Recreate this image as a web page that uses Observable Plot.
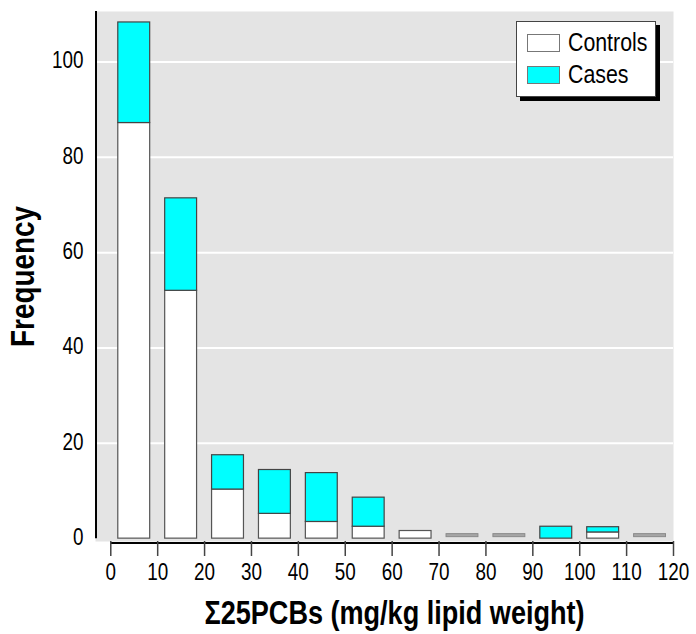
<!DOCTYPE html>
<html>
<head>
<meta charset="utf-8">
<script src="https://cdn.jsdelivr.net/npm/d3@7"></script>
<script src="https://cdn.jsdelivr.net/npm/@observablehq/plot@0.6"></script>
<style>
  body { margin: 0; background: white; }
  #wrap { position: relative; width: 696px; height: 634px; font-family: 'Liberation Sans', Arial, sans-serif; }
  #legend { position: absolute; left: 516px; top: 21px; width: 138px; height: 74px; background: white; border: 1px solid #444; box-shadow: 4px 4px 0 #000; }
  .sw { position: absolute; left: 10px; width: 31px; height: 16px; border: 1px solid #777; }
  .lt { position: absolute; left: 51px; font-size: 26px; line-height: 26px; color: #000; transform: scaleX(0.82); transform-origin: left center; white-space: nowrap; }
</style>
</head>
<body>
<div id="wrap">
  <div id="chart"></div>
  <div id="legend">
    <div class="sw" style="top:12px;background:#fff"></div>
    <div class="lt" style="top:7px">Controls</div>
    <div class="sw" style="top:44px;background:#00ffff"></div>
    <div class="lt" style="top:39px">Cases</div>
  </div>
</div>
<script>
// Bin lower edges (mg/kg lipid weight), bin width 10
const binStarts = [0, 10, 20, 30, 40, 50, 60, 70, 80, 90, 100, 110];
const binWidth = 10;
// Frequencies
const controls = [87.2, 52, 10.3, 5.2, 3.5, 2.5, 1.6, 0, 0, 0, 1.3, 0];
const cases    = [21.1, 19.4, 7.2, 9.2, 10.25, 6.1, 0, 0, 0, 2.5, 1.1, 0];
const xTicks = [0, 10, 20, 30, 40, 50, 60, 70, 80, 90, 100, 110, 120];
const yTicks = [0, 20, 40, 60, 80, 100];
const xLabel = "\u03A325PCBs (mg/kg lipid weight)";
const yLabel = "Frequency";

const rows = binStarts.map((b, i) => ({
  x1: b, x2: b + binWidth,
  c: controls[i], k: cases[i], total: controls[i] + cases[i]
}));
const nonEmptyControls = rows.filter(d => d.c > 0);
const nonEmptyCases = rows.filter(d => d.k > 0);
const emptyBins = rows.filter(d => d.total === 0);

const xMin = -3.26, xMax = 120, yMin = -0.6, yMax = 110.6;
const font = "'Liberation Sans', Arial, sans-serif";

const chart = Plot.plot({
  width: 696,
  height: 634,
  marginLeft: 95,
  marginRight: 23,
  marginTop: 11,
  marginBottom: 93,
  style: { fontFamily: font, fontSize: "23px", background: "white", color: "black" },
  x: { domain: [xMin, xMax], axis: null },
  y: { domain: [yMin, yMax], axis: null },
  marks: [
    Plot.frame({ fill: "#e4e4e4", stroke: null }),
    Plot.gridY(yTicks.filter(t => t > 0), { stroke: "white", strokeOpacity: 1, strokeWidth: 2 }),
    Plot.rect(nonEmptyControls, { x1: "x1", x2: "x2", y1: 0, y2: "c", fill: "white", stroke: "#555", strokeWidth: 1.2, insetLeft: 7.5, insetRight: 7.5 }),
    Plot.rect(nonEmptyCases, { x1: "x1", x2: "x2", y1: "c", y2: d => d.c + d.k, fill: "#00ffff", stroke: "#444", strokeWidth: 1.2, insetLeft: 7.5, insetRight: 7.5 }),
    Plot.rect(emptyBins, { x1: "x1", x2: "x2", y1: 0, y2: 0, fill: "#a6a6a6", stroke: "#8a8a8a", strokeWidth: 1, insetLeft: 7.5, insetRight: 7.5, insetTop: -4.5, insetBottom: 1.5 }),
    Plot.ruleX([xMin], { y1: 0, y2: yMax, stroke: "black", strokeWidth: 2, dx: 0.5 }),
    Plot.ruleY([yMin], { x1: 0, x2: xMax, stroke: "black", strokeWidth: 2, dy: 1.5 }),
    Plot.axisY(yTicks, { tickSize: 0, tickPadding: 12, fontSize: 23, label: null, dy: -1 }),
    Plot.axisX(xTicks, { tickSize: 15, tickPadding: 7, fontSize: 23, label: null, stroke: "#444", strokeWidth: 1.5 }),
    Plot.text([xLabel], { frameAnchor: "bottom", dx: 10, dy: 72, fontSize: 33, fontWeight: "bold", lineAnchor: "middle", textAnchor: "middle" }),
    Plot.text([yLabel], { frameAnchor: "left", dx: -72, rotate: -90, fontSize: 34, fontWeight: "bold", lineAnchor: "middle", textAnchor: "middle" })
  ]
});
document.getElementById("chart").appendChild(chart);
// Condense all text horizontally (the original uses a condensed Helvetica)
d3.select(chart).selectAll("text").each(function () {
  const w = this.getComputedTextLength();
  if (w > 0) {
    this.setAttribute("textLength", (w * 0.82).toFixed(2));
    this.setAttribute("lengthAdjust", "spacingAndGlyphs");
  }
});
</script>
</body>
</html>
